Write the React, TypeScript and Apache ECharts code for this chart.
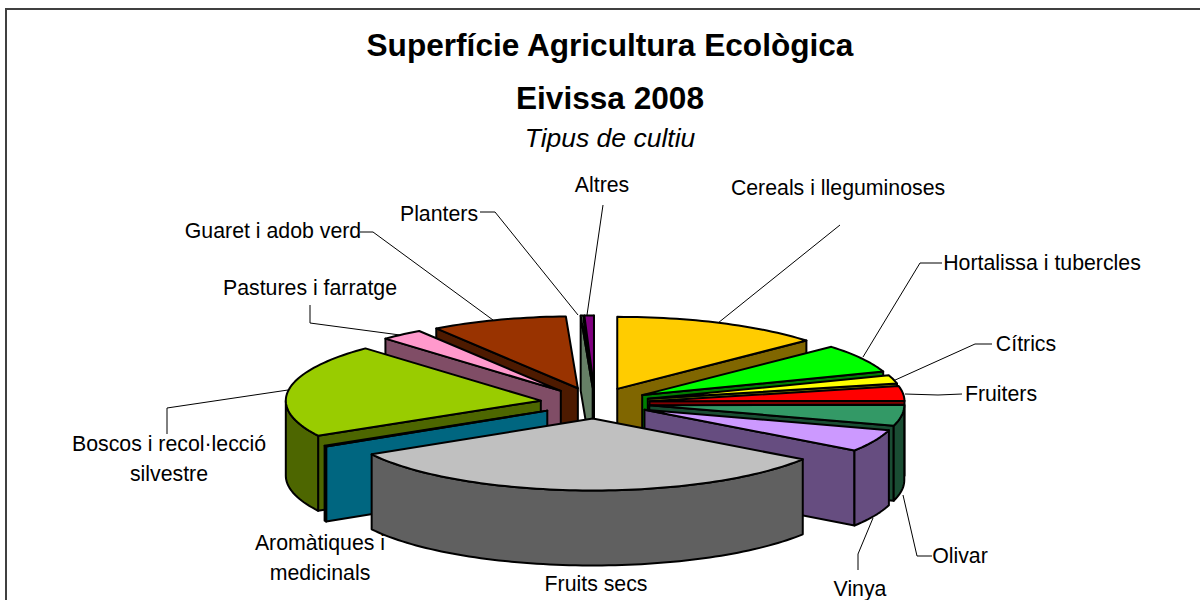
import React, { useEffect, useRef } from "react";
import * as echarts from "echarts";

const categories = [
  "Cereals i lleguminoses",
  "Hortalissa i tubercles",
  "Cítrics",
  "Fruiters",
  "Olivar",
  "Vinya",
  "Fruits secs",
  "Aromàtiques i medicinals",
  "Boscos i recol·lecció silvestre",
  "Pastures i farratge",
  "Guaret i adob verd",
  "Planters",
  "Altres",
];
const values = [13.3, 6.4, 1.9, 3.3, 4.7, 5.0, 32.1, 0.2, 21.03, 2.7, 8.62, 0.15, 0.6];
const topColors = ["#FFCC00", "#00FF00", "#FFFF00", "#FF0000", "#339966", "#CC99FF", "#C0C0C0", "#00CCFF", "#99CC00", "#FF99CC", "#993300", "#CCFFCC", "#800080"];
const wallColors = ["#806600", "#008000", "#808000", "#800000", "#1A4D33", "#664D80", "#606060", "#006680", "#4D6600", "#804D66", "#4D1A00", "#668066", "#400040"];

const FONT = "Liberation Sans";
const CX = 595, CY = 403, RX = 255, RY = 72, DEPTH = 75, EXPLODE = 0.215;

const total = values.reduce((a, b) => a + b, 0);
const startAngles: number[] = [];
values.reduce((acc, v, i) => {
  startAngles[i] = acc;
  return acc + (v / total) * 360;
}, 0);
const midCos = (i: number) =>
  Math.cos(((startAngles[i] + ((values[i] / total) * 360) / 2) * Math.PI) / 180);
const drawOrder = categories.map((_, i) => i).sort((a, b) => midCos(b) - midCos(a));

const labelLayout: { lines: string[]; x: number; y: number; leader?: number[][] }[] = [
  { lines: ["Cereals i lleguminoses"], x: 838, y: 188, leader: [[840, 225], [718, 323]] },
  { lines: ["Hortalissa i tubercles"], x: 1042, y: 263, leader: [[942, 263], [920, 263], [863, 357]] },
  { lines: ["Cítrics"], x: 1026, y: 344, leader: [[992, 344], [975, 344], [893, 381]] },
  { lines: ["Fruiters"], x: 1001, y: 394, leader: [[962, 394], [938, 395], [905, 394]] },
  { lines: ["Olivar"], x: 960, y: 556, leader: [[932, 556], [917, 556], [903, 495]] },
  { lines: ["Vinya"], x: 860, y: 589, leader: [[858, 570], [858, 554], [873, 518]] },
  { lines: ["Fruits secs"], x: 596, y: 584 },
  { lines: ["Aromàtiques i", "medicinals"], x: 320, y: 543 },
  { lines: ["Boscos i recol·lecció", "silvestre"], x: 169, y: 444, leader: [[167, 434], [167, 408], [288, 390]] },
  { lines: ["Pastures i farratge"], x: 310, y: 288, leader: [[310, 305], [310, 323], [400, 335]] },
  { lines: ["Guaret i adob verd"], x: 273, y: 231, leader: [[360, 232], [373, 232], [493, 320]] },
  { lines: ["Planters"], x: 439, y: 214, leader: [[480, 212], [495, 212], [578, 315]] },
  { lines: ["Altres"], x: 602, y: 185, leader: [[603, 205], [587, 315]] },
];

function renderSlice(_params: any, api: any) {
  const idx = api.value(0);
  const share = (api.value(1) / total) * 360;
  const t1 = startAngles[idx];
  const t2 = t1 + share;
  const mid = ((t1 + t2) / 2) * (Math.PI / 180);
  const ax = CX + RX * EXPLODE * Math.sin(mid);
  const ay = CY - RY * EXPLODE * Math.cos(mid);
  const rim = (deg: number, drop = 0) => {
    const r = (deg * Math.PI) / 180;
    return [ax + RX * Math.sin(r), ay - RY * Math.cos(r) + drop];
  };
  const arc = (a: number, b: number, drop = 0) => {
    const n = Math.max(2, Math.ceil((b - a) / 1.5));
    const pts: number[][] = [];
    for (let i = 0; i <= n; i++) pts.push(rim(a + ((b - a) * i) / n, drop));
    return pts;
  };
  const lineStyle = { stroke: "#000", lineWidth: 2, lineJoin: "round" };
  const wallStyle = { ...lineStyle, fill: wallColors[idx] };
  const children: any[] = [];
  const poly = (points: number[][], style: any) =>
    children.push({ type: "polygon", shape: { points }, style, silent: true });

  const s1 = Math.sin((t1 * Math.PI) / 180);
  const s2 = Math.sin((t2 * Math.PI) / 180);
  if (s1 < 0) poly([[ax, ay], rim(t1), rim(t1, DEPTH), [ax, ay + DEPTH]], wallStyle);
  if (s2 > 0) poly([[ax, ay], rim(t2), rim(t2, DEPTH), [ax, ay + DEPTH]], wallStyle);
  const a = Math.max(t1, 90);
  const b = Math.min(t2, 270);
  if (b > a) poly([...arc(a, b), ...arc(a, b, DEPTH).reverse()], wallStyle);
  poly([[ax, ay], ...arc(t1, t2)], { ...lineStyle, fill: topColors[idx] });
  return { type: "group", children };
}

const titleBase = { left: 605, textAlign: "center" };
const LINE_H = 30;

export default function App() {
  const ref = useRef<HTMLDivElement>(null);
  useEffect(() => {
    document.body.style.margin = "0";
    const chart = echarts.init(ref.current!, undefined, { renderer: "svg" });
    const graphics: any[] = [
      {
        type: "rect",
        silent: true,
        z: 0,
        shape: { x: 6, y: 9, width: 1210, height: 620 },
        style: { fill: "#fff", stroke: "#404040", lineWidth: 2 },
      },
    ];
    labelLayout.forEach((l) => {
      if (l.leader) {
        graphics.push({
          type: "polyline",
          silent: true,
          z: 5,
          shape: { points: l.leader },
          style: { stroke: "#000", lineWidth: 1, fill: "none" },
        });
      }
      l.lines.forEach((line, i) => {
        graphics.push({
          type: "text",
          silent: true,
          z: 20,
          x: l.x,
          y: l.y + i * LINE_H,
          style: { text: line, fontFamily: FONT, fontSize: 21.3, fill: "#000", align: "center", verticalAlign: "middle" },
        });
      });
    });
    chart.setOption({
      animation: false,
      backgroundColor: "#fff",
      title: [
        { ...titleBase, top: 24, text: "Superfície Agricultura Ecològica", textStyle: { fontFamily: FONT, fontSize: 31.6, fontWeight: "bold", color: "#000" } },
        { ...titleBase, top: 77, text: "Eivissa 2008", textStyle: { fontFamily: FONT, fontSize: 31.6, fontWeight: "bold", color: "#000" } },
        { ...titleBase, top: 119, text: "Tipus de cultiu", textStyle: { fontFamily: FONT, fontSize: 26.5, fontStyle: "italic", fontWeight: "normal", color: "#000" } },
      ],
      graphic: { elements: graphics },
      series: [
        {
          type: "custom",
          coordinateSystem: "none",
          renderItem: renderSlice,
          silent: true,
          z: 10,
          data: drawOrder.map((i) => ({ name: categories[i], value: [i, values[i]] })),
        },
      ],
    });
    return () => chart.dispose();
  }, []);
  return <div ref={ref} style={{ position: "absolute", left: 0, top: 0, width: 1200, height: 600 }} />;
}
